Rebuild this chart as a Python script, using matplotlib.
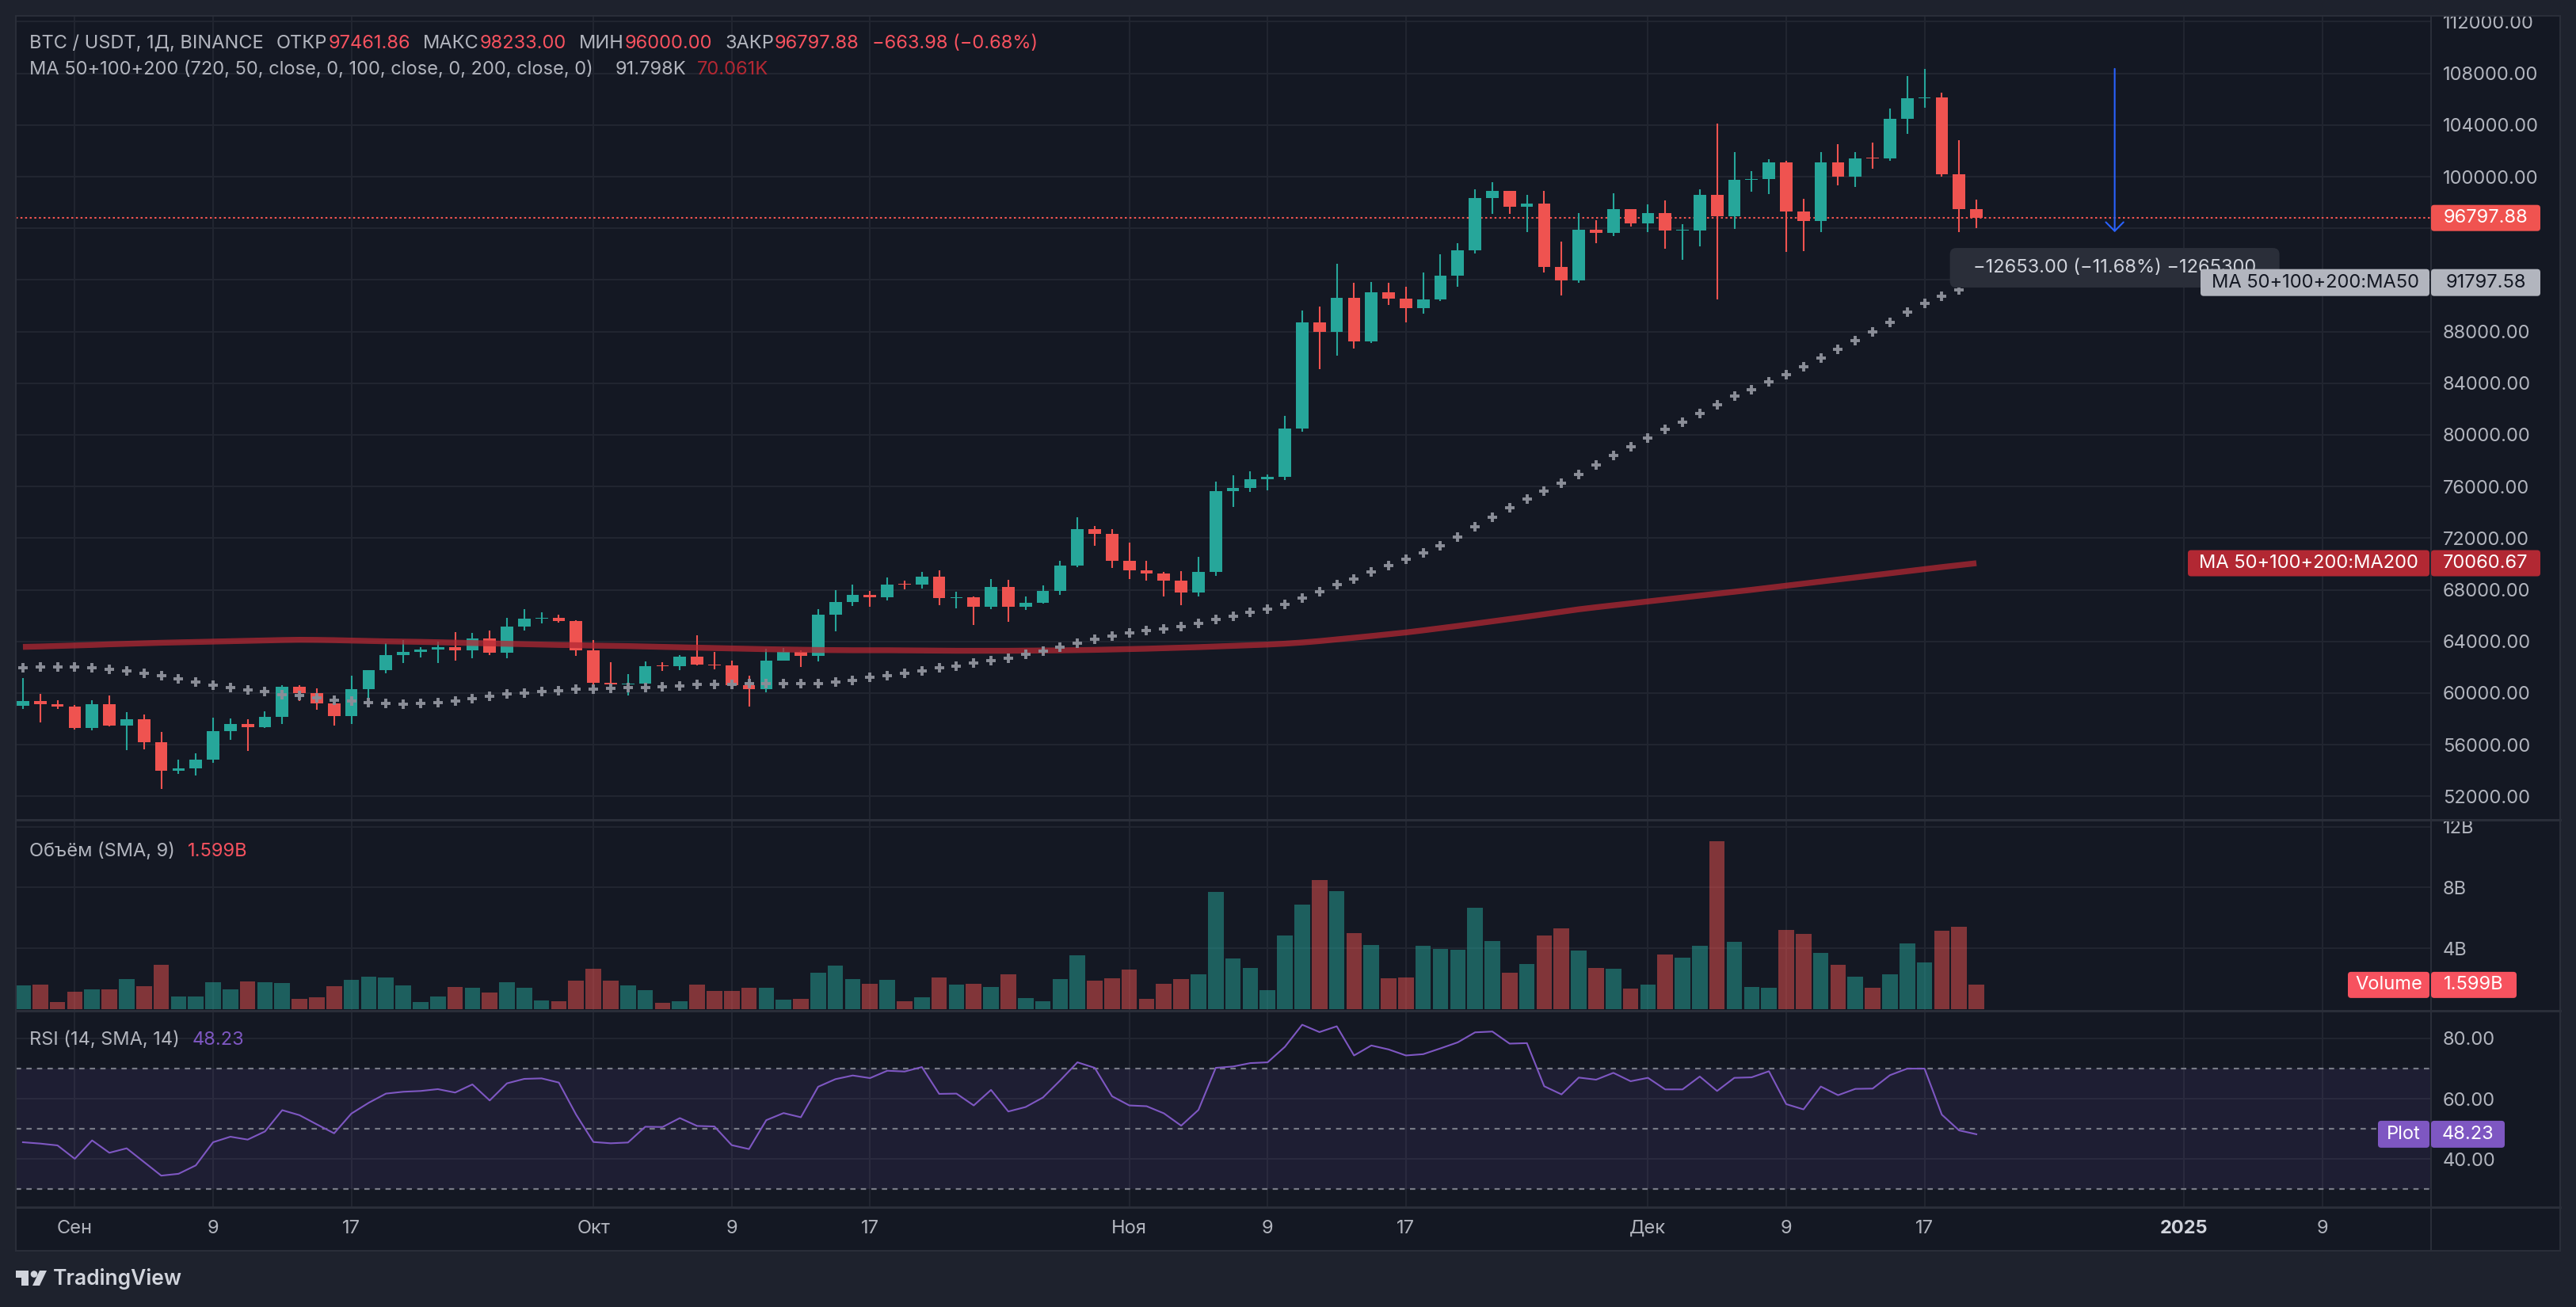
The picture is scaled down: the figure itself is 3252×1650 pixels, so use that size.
import numpy as np
import matplotlib
matplotlib.use("Agg")
from matplotlib import pyplot as plt
from matplotlib.patches import Rectangle, FancyBboxPatch, Polygon, Circle

plt.rcParams['font.family'] = ['Inter', 'DejaVu Sans']

# BTC / USDT daily candles, 29 Aug 2024 .. 20 Dec 2024 (index 0 = 29 Aug)
opens = [59034, 59359, 59123, 58974, 57301, 59132, 57487, 57970, 56180, 53962,
         54160, 54869, 57042, 57635, 57338, 58132, 60499, 60000, 59182, 58192,
         60309, 61760, 62947, 63201, 63348, 63578, 63339, 64262, 63152, 65173,
         65769, 65858, 65602, 63327, 60805, 60649, 60752, 62086, 62058, 62819,
         62224, 62161, 60636, 60326, 62540, 63206, 62870, 66083, 67074, 67620,
         67421, 68428, 68378, 69031, 67377, 67426, 66668, 68198, 66699, 67016,
         67929, 69907, 72720, 72339, 70215, 69482, 69289, 68742, 67811, 69359,
         75639, 75905, 76545, 76778, 80474, 88701, 87955, 90585, 87250, 91066,
         90558, 89845, 90464, 92310, 94286, 98317, 98892, 97672, 97900, 93010,
         91965, 95863, 95643, 97461, 96407, 97185, 95840, 95849, 98587, 96945,
         99740, 99831, 101109, 97276, 96593, 101125, 100000, 101424, 101420, 104463,
         106058, 106133, 100204, 97461.86]
highs = [61166, 59944, 59462, 59075, 59425, 59810, 58519, 58327, 57008, 54850,
         55318, 58088, 58044, 57981, 58588, 60625, 60610, 60381, 59210, 61320,
         61786, 63850, 64133, 63559, 64000, 64745, 64688, 64817, 65839, 66498,
         66260, 66076, 65618, 64130, 62370, 61477, 62484, 62370, 62975, 64478,
         63200, 62543, 61321, 63417, 63480, 63285, 66500, 67950, 68424, 67939,
         68969, 68694, 69400, 69520, 67836, 67472, 68850, 68771, 67454, 68332,
         70270, 73620, 72961, 72700, 71632, 70261, 69387, 69432, 70577, 76400,
         76850, 77200, 76927, 81500, 89604, 89956, 93265, 91790, 91850, 91779,
         91467, 92594, 94002, 94831, 98988, 99588, 98900, 98564, 98871, 94973,
         97208, 96650, 98693, 97463, 97836, 98130, 96305, 99000, 104088, 101898,
         100439, 101351, 101215, 98270, 101895, 102540, 101895, 102650, 105250, 107793,
         108353, 106524, 102800, 98233.00]
lows = [58745, 57701, 58745, 57201, 57128, 57415, 55606, 55643, 52550, 53745,
        53629, 54591, 56386, 55545, 57323, 57632, 59400, 58696, 57493, 57610,
        59174, 61555, 62350, 62758, 62357, 62538, 62700, 62947, 62670, 64819,
        65422, 65432, 62856, 60164, 60000, 59828, 60459, 61689, 61798, 62128,
        61860, 60300, 58946, 60087, 62487, 62050, 62457, 64800, 66750, 66666,
        67177, 68010, 68100, 66840, 66571, 65260, 66510, 65521, 66439, 66913,
        67618, 69730, 71436, 69686, 68820, 68725, 67478, 66803, 67458, 69050,
        74416, 75560, 75700, 76492, 80216, 85072, 86127, 86668, 87125, 90056,
        88741, 89376, 90358, 91500, 94040, 97122, 97136, 95734, 92600, 90791,
        91792, 94827, 95407, 96150, 95693, 94395, 93578, 94587, 90500, 95981,
        98844, 98657, 94150, 94256, 95676, 99311, 99205, 100609, 101237, 103333,
        105321, 100000, 95700, 96000.00]
closes = [59359, 59123, 58974, 57301, 59132, 57487, 57970, 56180, 53962, 54160,
          54869, 57042, 57635, 57338, 58132, 60499, 60000, 59182, 58192, 60309,
          61760, 62947, 63201, 63348, 63578, 63339, 64262, 63152, 65173, 65769,
          65858, 65602, 63327, 60805, 60649, 60752, 62086, 62058, 62819, 62224,
          62161, 60636, 60326, 62540, 63206, 62870, 66083, 67074, 67620, 67421,
          68428, 68378, 69031, 67377, 67426, 66668, 68198, 66699, 67016, 67929,
          69907, 72720, 72339, 70215, 69482, 69289, 68742, 67811, 69359, 75639,
          75905, 76545, 76778, 80474, 88701, 87955, 90585, 87250, 91066, 90558,
          89845, 90464, 92310, 94286, 98317, 98892, 97672, 97900, 93010, 91965,
          95863, 95643, 97461, 96407, 97185, 95840, 95849, 98587, 96945, 99740,
          99831, 101109, 97276, 96593, 101125, 100000, 101424, 101420, 104463, 106058,
          106133, 100204, 97461.86, 96797.88]
volumes_b = [1.59, 1.60, 0.49, 1.17, 1.32, 1.32, 2.00, 1.53, 2.94, 0.85,
             0.85, 1.79, 1.32, 1.85, 1.79, 1.74, 0.70, 0.80, 1.53, 1.95,
             2.16, 2.11, 1.59, 0.49, 0.85, 1.48, 1.43, 1.12, 1.79, 1.43,
             0.59, 0.54, 1.90, 2.68, 1.90, 1.59, 1.27, 0.43, 0.54, 1.64,
             1.22, 1.22, 1.43, 1.43, 0.64, 0.70, 2.42, 2.89, 2.00, 1.69,
             1.95, 0.54, 0.80, 2.11, 1.64, 1.69, 1.48, 2.32, 0.75, 0.54,
             2.00, 3.56, 1.90, 2.06, 2.63, 0.70, 1.69, 2.00, 2.27, 7.69,
             3.35, 2.72, 1.27, 4.86, 6.89, 8.51, 7.79, 5.02, 4.24, 2.06,
             2.11, 4.19, 3.98, 3.93, 6.68, 4.50, 2.42, 2.99, 4.86, 5.33,
             3.87, 2.72, 2.66, 1.38, 1.64, 3.62, 3.41, 4.19, 11.02, 4.45,
             1.48, 1.43, 5.23, 4.97, 3.72, 2.94, 2.16, 1.43, 2.27, 4.35,
             3.10, 5.18, 5.44, 1.599]
ma50 = [61980, 62040, 62040, 62040, 61980, 61860, 61740, 61550, 61370, 61120,
        60880, 60630, 60450, 60260, 60140, 59900, 59830, 59650, 59470, 59370,
        59280, 59220, 59160, 59220, 59280, 59400, 59590, 59770, 59960, 60020,
        60140, 60200, 60330, 60330, 60390, 60450, 60450, 60510, 60570, 60690,
        60690, 60690, 60750, 60750, 60750, 60750, 60750, 60880, 61000, 61200,
        61370, 61550, 61740, 61960, 62100, 62310, 62520, 62700, 63010, 63270,
        63580, 63880, 64190, 64440, 64680, 64870, 64990, 65170, 65420, 65720,
        65970, 66280, 66520, 66890, 67380, 67870, 68420, 68850, 69400, 69900,
        70390, 70880, 71430, 72100, 72900, 73640, 74370, 75050, 75660, 76280,
        76950, 77650, 78390, 79070, 79750, 80410, 81000, 81640, 82350, 83000,
        83520, 84130, 84680, 85300, 85970, 86640, 87320, 87990, 88730, 89530,
        90200, 90760, 91250, 91797.58]
ma200 = [63580, 63610, 63650, 63690, 63730, 63780, 63820, 63860, 63900, 63930,
         63960, 63990, 64020, 64050, 64080, 64110, 64130, 64120, 64100, 64070,
         64040, 64010, 63990, 63970, 63940, 63910, 63880, 63850, 63820, 63790,
         63760, 63730, 63710, 63680, 63660, 63640, 63610, 63580, 63550, 63520,
         63490, 63460, 63430, 63400, 63380, 63360, 63340, 63330, 63320, 63320,
         63320, 63310, 63300, 63290, 63280, 63280, 63280, 63280, 63290, 63300,
         63310, 63330, 63350, 63380, 63410, 63440, 63480, 63520, 63560, 63610,
         63660, 63710, 63760, 63830, 63920, 64030, 64160, 64290, 64420, 64560,
         64700, 64860, 65030, 65200, 65380, 65560, 65740, 65920, 66110, 66300,
         66490, 66650, 66800, 66950, 67100, 67250, 67400, 67550, 67700, 67850,
         68000, 68160, 68320, 68480, 68640, 68800, 68960, 69120, 69280, 69440,
         69600, 69760, 69910, 70060.67]
rsi = [45.58, 45.14, 44.53, 40.09, 46.19, 42.09, 43.57, 39.04, 34.51, 35.12,
       37.91, 45.58, 47.41, 46.45, 49.15, 56.21, 54.55, 51.50, 48.54, 55.08,
       58.65, 61.70, 62.31, 62.57, 63.18, 62.05, 64.75, 59.43, 65.10, 66.58,
       66.75, 65.36, 54.73, 45.66, 45.23, 45.49, 50.72, 50.63, 53.59, 50.98,
       50.81, 44.62, 43.31, 52.90, 55.25, 53.86, 63.97, 66.49, 67.71, 66.84,
       69.28, 69.02, 70.50, 61.61, 61.70, 57.78, 62.92, 55.77, 57.25, 60.39,
       66.06, 72.07, 70.24, 60.83, 57.78, 57.52, 55.16, 51.07, 56.30, 70.24,
       70.68, 71.81, 72.07, 77.21, 84.53, 82.09, 84.01, 74.34, 77.65, 76.34,
       74.34, 74.77, 76.69, 78.69, 82.00, 82.27, 78.26, 78.43, 64.14, 61.44,
       67.02, 66.32, 68.58, 65.80, 66.93, 63.09, 63.09, 67.36, 62.57, 66.93,
       67.10, 69.11, 58.21, 56.47, 64.05, 61.18, 63.27, 63.36, 67.80, 69.98,
       69.98, 54.73, 49.50, 48.23]

tick_pos = [3, 11, 19, 33, 41, 49, 64, 72, 80, 94, 102, 110, 125, 133]
tick_labels = ["Сен", "9", "17", "Окт", "9", "17", "Ноя", "9", "17",
               "Дек", "9", "17", "2025", "9"]
price_ticks = list(range(52000, 112001, 4000))
vol_ticks = [4, 8, 12]
rsi_ticks = [40, 60, 80]
rsi_bands = [30, 50, 70]

# price range tool drawn on the chart
measure_x = 121
measure_from = 108353.0
measure_to = 95700.0

# ---- look ----
W, H, DPI = 3252, 1650, 100
OUTER = '#1e222d'
PANE = '#141823'
GRID = '#222631'
SEP = '#2a2e39'
TXT = '#b2b5be'
UP = '#26a69a'
DOWN = '#ef5350'
RED_TXT = '#f7525f'
MA200_COL = '#b22833'
MA50_COL = '#8a8d97'
RSI_COL = '#7e57c2'
FS = 17

L, R, AXR = 20, 3069, 3232
TOP, MAIN_B, VOL_B, RSI_B, TIME_B = 20, 1035, 1276, 1524, 1579

fig = plt.figure(figsize=(W / DPI, H / DPI), dpi=DPI)
fig.patch.set_facecolor(OUTER)


def px_axes(x0, y0, x1, y1, **kw):
    return fig.add_axes([x0 / W, 1 - y1 / H, (x1 - x0) / W, (y1 - y0) / H], **kw)


back = px_axes(0, 0, W, H)
back.set_xlim(0, W)
back.set_ylim(H, 0)
back.axis('off')
back.set_zorder(-10)
back.add_patch(Rectangle((L, TOP), AXR - L, TIME_B - TOP, color=PANE, lw=0))

ax = px_axes(L, TOP, R, MAIN_B)
vax = px_axes(L, MAIN_B + 1, R, VOL_B, sharex=ax)
rax = px_axes(L, VOL_B + 1, R, RSI_B, sharex=ax)

for a in (ax, vax, rax):
    a.set_facecolor('none')
    for s in a.spines.values():
        s.set_visible(False)
    a.yaxis.tick_right()
    a.tick_params(axis='y', length=0, pad=10.8, labelsize=FS, labelcolor=TXT)
    a.tick_params(axis='x', length=0, labelbottom=False)
    a.set_xticks(tick_pos)
    a.grid(True, color=GRID, lw=1.4, zorder=0)
    a.set_axisbelow(True)

x = np.arange(len(closes))
o = np.array(opens, float)
h = np.array(highs, float)
lo = np.array(lows, float)
c = np.array(closes, float)
up = c >= o
colors = np.where(up, UP, DOWN)

# candles
ax.vlines(x, lo, h, colors=colors, lw=1.5, zorder=3)
ax.bar(x, np.maximum(np.abs(c - o), 70), 0.72, bottom=np.minimum(o, c),
       color=colors, lw=0, zorder=4)
ax.plot(x, ma200, color=MA200_COL, lw=5.3, alpha=0.75, solid_capstyle='butt', zorder=5)
ax.plot(x, ma50, ls='none', marker='+', ms=8.3, mew=2.8, color=MA50_COL, zorder=6)
ax.axhline(c[-1], color=DOWN, lw=1.5, ls=(0, (1.2, 1.6)), zorder=2)
ax.annotate('', xy=(measure_x, measure_to), xytext=(measure_x, measure_from),
            arrowprops=dict(arrowstyle='->,head_length=0.4,head_width=0.4',
                            color='#2962ff', lw=1.5, mutation_scale=20,
                            shrinkA=0, shrinkB=0), zorder=7)
ax.set_xlim(-0.41, 139.3)
ax.set_ylim(50184, 112454)

# volume
vol = np.array(volumes_b) * 1e9
vax.bar(x, vol, 0.9, color=colors, alpha=0.5, lw=0, zorder=3)
vax.set_ylim(-0.1e9, 12.4e9)
vax.set_yticks([v * 1e9 for v in vol_ticks])
vax.set_yticklabels([f"{v}B" for v in vol_ticks])

# RSI
rax.axhspan(rsi_bands[0], rsi_bands[-1], color=RSI_COL, alpha=0.1, lw=0, zorder=1)
for b in rsi_bands:
    rax.axhline(b, color='#787b86', lw=1.6, ls=(0, (3, 3)), zorder=2)
rax.plot(x, rsi, color=RSI_COL, lw=1.5, zorder=4)
rax.set_ylim(24.05, 88.9)
rax.set_yticks(rsi_ticks)
rax.set_yticklabels([f"{v:.2f}" for v in rsi_ticks])
rax.tick_params(axis='x', labelbottom=True, pad=11.3, labelsize=FS, labelcolor=TXT)
rax.set_xticklabels(tick_labels)
for t in rax.get_xticklabels():
    if t.get_text() == "2025":
        t.set_fontweight('bold')
        t.set_color('#d1d4dc')


def to_px(a, yv):
    return H - a.transData.transform((0, yv))[1]


# price scale: labels that sit under the last-value tags are hidden, as on the chart
tag_values = [c[-1], ma50[-1]]
ax.set_yticks(price_ticks)
ax.set_yticklabels([
    "" if min(abs(to_px(ax, p) - to_px(ax, v)) for v in tag_values) < 22 else f"{p:.2f}"
    for p in price_ticks])

# ---- overlay: separators, legends, price tags ----
ov = px_axes(0, 0, W, H)
ov.set_xlim(0, W)
ov.set_ylim(H, 0)
ov.axis('off')
ov.set_zorder(10)

for yy in (MAIN_B, VOL_B, RSI_B):
    ov.plot([L, AXR], [yy, yy], color=SEP, lw=2.2)
ov.plot([R, R], [TOP, TIME_B], color=SEP, lw=1.5)
ov.add_patch(Rectangle((L, TOP), AXR - L, TIME_B - TOP, fill=False, ec=SEP, lw=1.5))

renderer = fig.canvas.get_renderer()


def chain(x0, y0, parts):
    for text, color, gap in parts:
        t = ov.text(x0, y0, text, color=color, fontsize=FS, ha='left', va='center', zorder=22)
        x0 += t.get_window_extent(renderer).width + gap


def tag(x0, x1, yc, text, fc, tc, hgt=33):
    ov.add_patch(FancyBboxPatch((x0, yc - hgt / 2), x1 - x0, hgt,
                                boxstyle='round,pad=0,rounding_size=4',
                                fc=fc, ec='none', zorder=20))
    ov.text((x0 + x1) / 2, yc, text, color=tc, fontsize=FS, ha='center',
            va='center', zorder=21)


chg = c[-1] - c[-2]
pct = chg / c[-2] * 100
chain(37, 55, [("BTC / USDT, 1Д, BINANCE", TXT, 16),
               ("ОТКР", TXT, 1), (f"{o[-1]:.2f}", RED_TXT, 16),
               ("МАКС", TXT, 1), (f"{h[-1]:.2f}", RED_TXT, 16),
               ("МИН", TXT, 1), (f"{lo[-1]:.2f}", RED_TXT, 16),
               ("ЗАКР", TXT, 1), (f"{c[-1]:.2f}", RED_TXT, 16),
               (f"{chg:.2f} ({pct:.2f}%)".replace('-', '−'), RED_TXT, 0)])
chain(37, 88, [("MA 50+100+200 (720, 50, close, 0, 100, close, 0, 200, close, 0)", TXT, 28),
               (f"{ma50[-1] / 1000:.3f}K", TXT, 13),
               (f"{ma200[-1] / 1000:.3f}K", MA200_COL, 0)])
chain(37, 1075, [("Объём (SMA, 9)", TXT, 16), (f"{volumes_b[-1]:.3f}B", RED_TXT, 0)])
chain(37, 1313, [("RSI (14, SMA, 14)", TXT, 16), (f"{rsi[-1]:.2f}", RSI_COL, 0)])

# measure label under the arrow
mx = ax.transData.transform((measure_x, 0))[0]
my = to_px(ax, measure_to) + 45
diff = measure_to - measure_from
ov.add_patch(FancyBboxPatch((mx - 208, my - 25), 416, 50,
                            boxstyle='round,pad=0,rounding_size=8',
                            fc='#2a2e39', ec='none', zorder=15))
ov.text(mx, my, f"{diff:.2f} ({diff / measure_from * 100:.2f}%) {diff * 100:.0f}".replace('-', '−'),
        color='#d1d4dc', fontsize=FS, ha='center', va='center', zorder=16)

y_close = to_px(ax, c[-1])
tag(R, 3207, y_close, f"{c[-1]:.2f}", '#f05350', 'white')
y50 = to_px(ax, ma50[-1])
tag(2778, R - 2, y50, "MA 50+100+200:MA50", '#b2b5be', '#131722', 34)
tag(R, 3207, y50, f"{ma50[-1]:.2f}", '#b2b5be', '#131722', 34)
y200 = to_px(ax, ma200[-1])
tag(2762, R - 2, y200, "MA 50+100+200:MA200", MA200_COL, 'white')
tag(R, 3207, y200, f"{ma200[-1]:.2f}", MA200_COL, 'white')
yv = to_px(vax, vol[-1])
tag(2964, R - 2, yv, "Volume", RED_TXT, 'white')
tag(R, 3177, yv, f"{volumes_b[-1]:.3f}B", RED_TXT, 'white')
yr = to_px(rax, rsi[-1])
tag(3002, R - 2, yr, "Plot", RSI_COL, 'white', 34)
tag(R, 3162, yr, f"{rsi[-1]:.2f}", RSI_COL, 'white', 34)

# footer logo
LOGO = '#d1d4dc'
ov.add_patch(Polygon([(20, 1604), (36, 1604), (36, 1623), (27, 1623), (27, 1613), (20, 1613)],
                     closed=True, fc=LOGO, ec='none'))
ov.add_patch(Circle((43, 1608.5), 4.3, fc=LOGO, ec='none'))
ov.add_patch(Polygon([(50, 1604), (59, 1604), (50, 1623), (41, 1623)], closed=True, fc=LOGO, ec='none'))
ov.text(67, 1614, "TradingView", color=LOGO, fontsize=19, fontweight='semibold',
        ha='left', va='center')

fig.savefig("out.png", dpi=DPI, facecolor=fig.get_facecolor())
